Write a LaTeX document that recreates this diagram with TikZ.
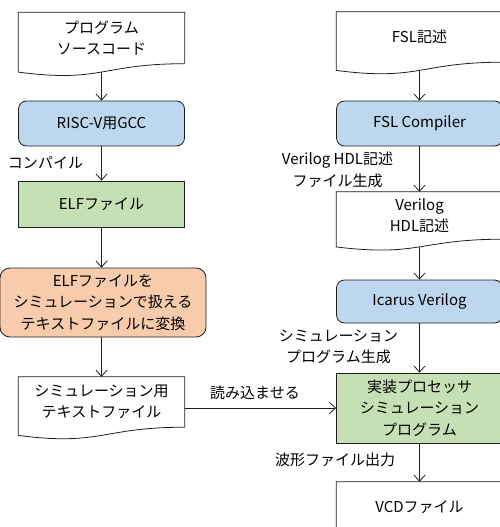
\documentclass[tikz,border=0pt]{standalone}
\usepackage{fontspec}
\setmainfont{Noto Sans CJK JP}
\usetikzlibrary{arrows.meta,calc}
\definecolor{bluefill}{RGB}{189,215,238}
\definecolor{greenfill}{RGB}{197,224,180}
\definecolor{orangefill}{RGB}{248,203,173}
\definecolor{edge}{RGB}{30,30,30}
\newcommand\docwave[2]{%
  \draw[draw=edge, line width=0.8pt] (#1.south east) -- (#1.north east) -- (#1.north west)
    -- ($(#1.south west)+(0,0.1646*#2)$)
    .. controls ($(#1.south)+(0,0.381*#2)$) and ($(#1.south)$) .. (#1.south east);
  \coordinate (#1-b) at ($(#1.south)+(0,0.1633*#2)$);
}
\begin{document}
\begin{tikzpicture}[x=1pt,y=-1pt, font=\fontsize{15}{21.5}\selectfont,
  box/.style={draw=edge, line width=0.8pt, minimum width=166pt, align=center, inner sep=0pt},
  roundbox/.style={box, rounded corners=8pt},
  docbox/.style={minimum width=166pt, align=center, inner sep=0pt},
  arr/.style={draw=edge, line width=0.8pt, -{Straight Barb[length=6pt,width=11pt]}},
  lbl/.style={inner sep=0pt, align=center}]
\useasboundingbox (0,0) rectangle (500,527);

% left column
\node[docbox, minimum height=51pt] (src) at (101.5,38) {プログラム\\ソースコード};
\docwave{src}{51}
\node[roundbox, fill=bluefill, minimum height=45pt] (gcc) at (101.5,123.5) {RISC-V用GCC};
\node[box, fill=greenfill, minimum height=46pt] (elf) at (101.5,204) {ELFファイル};
\node[roundbox, rounded corners=10pt, fill=orangefill, minimum width=206pt, minimum height=69pt] (conv) at (103,302.5) {ELFファイルを\\シミュレーションで扱える\\テキストファイルに変換};
\node[docbox, minimum height=50pt] (simtxt) at (101.5,402) {シミュレーション用\\テキストファイル};
\docwave{simtxt}{50}

% right column
\node[docbox, minimum height=50pt] (fsl) at (419.5,37) {FSL記述};
\docwave{fsl}{50}
\node[roundbox, fill=bluefill, minimum height=45pt] (fslc) at (419.5,123.5) {FSL Compiler};
\node[docbox, minimum height=47pt] (vhdl) at (419.5,215.5) {Verilog\\HDL記述};
\docwave{vhdl}{47}
\node[roundbox, fill=bluefill, minimum height=43pt] (icarus) at (419.5,301.5) {Icarus Verilog};
\node[box, fill=greenfill, minimum height=70pt] (sim) at (419.5,408) {実装プロセッサ\\シミュレーション\\プログラム};
\node[docbox, minimum height=50pt] (vcd) at (419.5,507) {VCDファイル};
\docwave{vcd}{50}

% labels
\node[lbl] (l1) at (45.5,163) {コンパイル};
\node[lbl] (l2) at (337.5,170) {Verilog HDL記述\\ファイル生成};
\node[lbl] (l3) at (338.5,347) {シミュレーション\\プログラム生成};
\node[lbl] (l4) at (335,460) {波形ファイル出力};
\node[lbl] (l5) at (255,393) {読み込ませる};

% arrows
\draw[arr] (src-b) -- (gcc.north);
\draw[arr] (gcc.south) -- (elf.north);
\draw[arr] (elf.south) -- (elf.south |- conv.north);
\draw[arr] (simtxt.north |- conv.south) -- (simtxt.north);
\draw[arr] (fsl-b) -- (fslc.north);
\draw[arr] (fslc.south) -- (vhdl.north);
\draw[arr] (vhdl-b) -- (icarus.north);
\draw[arr] (icarus.south) -- (sim.north);
\draw[arr] (sim.south) -- (vcd.north);
\draw[arr] (sim.west -| simtxt.east) -- (sim.west);
\end{tikzpicture}
\end{document}
